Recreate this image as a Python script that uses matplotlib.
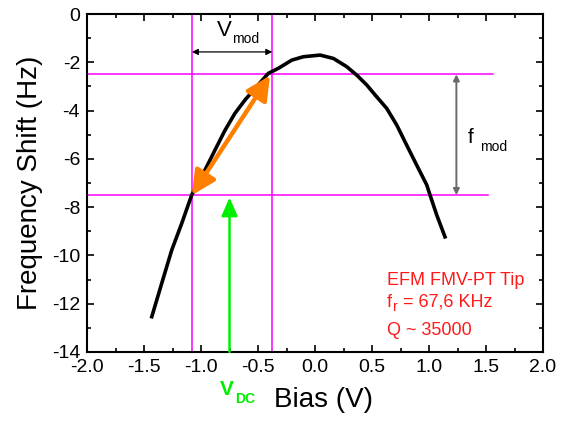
import matplotlib
matplotlib.use("Agg")
import matplotlib.pyplot as plt
from matplotlib.patches import FancyArrowPatch
from matplotlib.ticker import MultipleLocator

plt.rcParams['font.family'] = ['Liberation Sans', 'DejaVu Sans']

# Data
bias = [-1.432, -1.345, -1.257, -1.169, -1.082, -0.965, -0.877, -0.789, -0.702,
        -0.614, -0.526, -0.410, -0.322, -0.204, -0.103, 0.044, 0.161, 0.278,
        0.366, 0.454, 0.541, 0.629, 0.717, 0.804, 0.892, 0.980, 1.009, 1.068,
        1.140]
shift = [-12.54, -11.16, -9.78, -8.67, -7.50, -6.46, -5.63, -4.81, -4.11,
         -3.56, -3.08, -2.46, -2.25, -1.91, -1.77, -1.70, -1.84, -2.18,
         -2.53, -2.94, -3.43, -3.91, -4.60, -5.43, -6.26, -7.08, -7.50, -8.33,
         -9.23]

v_lines = [-1.08, -0.375]
h_lines = [-2.5, -7.5]
h_line_ends = [1.56, 1.52]
v_dc = -0.75
v_dc_tip = -7.6
fmod_x = 1.24
vmod_y = -1.57
xticks = [-2.0, -1.5, -1.0, -0.5, 0.0, 0.5, 1.0, 1.5, 2.0]
yticks = [0, -2, -4, -6, -8, -10, -12, -14]

fig = plt.figure(figsize=(5.64, 4.25), dpi=100)
ax = fig.add_axes([0.1543, 0.1718, 0.8085, 0.7952])
ax.set_xlim(-2.0, 2.0)
ax.set_ylim(-14, 0)

ax.plot(bias, shift, color='black', lw=2.6, zorder=3, solid_joinstyle='round')

for x in v_lines:
    ax.axvline(x, color='#ff00ff', lw=1.1, zorder=2)
for y, xe in zip(h_lines, h_line_ends):
    ax.plot([-2.0, xe], [y, y], color='#ff00ff', lw=1.1, zorder=2, clip_on=False)

# V_mod arrow
ax.annotate('', xy=(v_lines[0], vmod_y), xytext=(v_lines[1], vmod_y),
            arrowprops=dict(arrowstyle='<|-|>', color='black', lw=0.9,
                            mutation_scale=9, shrinkA=0, shrinkB=0))
# f_mod arrow
ax.annotate('', xy=(fmod_x, h_lines[0]), xytext=(fmod_x, h_lines[1]),
            arrowprops=dict(arrowstyle='<|-|>', color='#6a6a6a', lw=1.4,
                            mutation_scale=9, shrinkA=0, shrinkB=0))
# orange arrow
arr = FancyArrowPatch((v_lines[0], h_lines[1]), (v_lines[1] - 0.02, h_lines[0] - 0.05),
                      arrowstyle='<|-|>,head_length=0.9,head_width=0.45',
                      mutation_scale=16, color='#ff8000', lw=3.2,
                      shrinkA=0, shrinkB=0, zorder=4)
ax.add_patch(arr)
# green arrow
ax.annotate('', xy=(v_dc, v_dc_tip), xytext=(v_dc, -14),
            arrowprops=dict(arrowstyle='-|>,head_length=0.8,head_width=0.35',
                            color='#00ee00', lw=1.8, mutation_scale=14,
                            shrinkA=0, shrinkB=0))

# labels
ax.text(-0.86, -0.91, 'V', fontsize=16, ha='left', va='baseline')
ax.annotate('mod', xy=(-0.86, -0.91), xytext=(11, -5), textcoords='offset points',
            fontsize=10, ha='left', va='baseline')
ax.text(1.34, -5.34, 'f', fontsize=15, ha='left', va='baseline')
ax.annotate('mod', xy=(1.34, -5.34), xytext=(9, -6), textcoords='offset points',
            fontsize=10, ha='left', va='baseline')

red = '#ff1a1a'
ax.text(0.629, -11.23, 'EFM FMV-PT Tip', fontsize=13, color=red, va='baseline')
ax.text(0.629, -12.12, 'f', fontsize=13, color=red, va='baseline')
ax.annotate('r', xy=(0.629, -12.12), xytext=(4.2, -3), textcoords='offset points',
            fontsize=10, color=red, va='baseline')
ax.annotate('= 67,6 KHz', xy=(0.629, -12.12), xytext=(12, 0), textcoords='offset points',
            fontsize=13, color=red, va='baseline')
ax.text(0.629, -13.30, 'Q ~ 35000', fontsize=13, color=red, va='baseline')

trans = ax.get_xaxis_transform()
ax.text(-0.835, -0.127, 'V', transform=trans, fontsize=15, fontweight='bold',
        color='#00ee00', va='baseline')
ax.annotate('DC', xy=(-0.835, -0.127), xycoords=trans, xytext=(11, -6),
            textcoords='offset points', fontsize=10, fontweight='bold',
            color='#00ee00', va='baseline')

ax.set_xticks(xticks)
ax.set_xticklabels([f'{t:.1f}' for t in xticks])
ax.set_yticks(yticks)
ax.set_yticklabels([str(t) for t in yticks])
ax.xaxis.set_minor_locator(MultipleLocator(0.25))
ax.yaxis.set_minor_locator(MultipleLocator(1))
ax.tick_params(which='both', direction='in', top=True, right=True, labelsize=14, width=1.2)
ax.tick_params(which='major', length=5, pad=5)
ax.tick_params(which='minor', length=3)
for s in ax.spines.values():
    s.set_linewidth(1.5)

ax.set_xlabel('Bias (V)', fontsize=20, labelpad=8)
ax.xaxis.label.set_x(0.518)
ax.set_ylabel('Frequency Shift (Hz)', fontsize=20, labelpad=6)

fig.savefig('out.png', dpi=100)
